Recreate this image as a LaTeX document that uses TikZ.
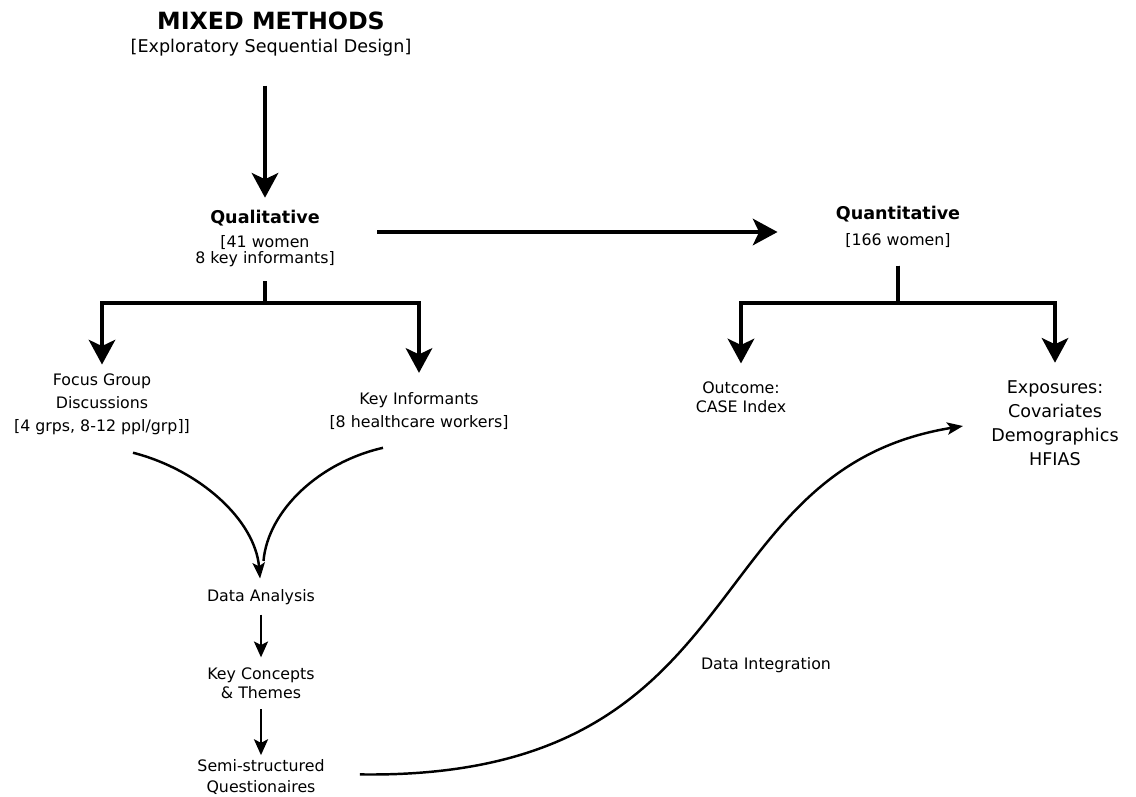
\documentclass[tikz,border=0pt]{standalone}
\usepackage{fontspec}
\setmainfont{DejaVu Sans}
\usetikzlibrary{arrows.meta, positioning, calc}

\begin{document}
\begin{tikzpicture}[
    x=0.02cm, y=-0.02cm,
    txt/.style={inner sep=0pt, align=center, font=\fontsize{9}{11}\selectfont},
    bigarrow/.style={-{Stealth[length=14pt, width=15pt, inset=3.5pt]}, line width=2.4pt},
    smallarrow/.style={-{Stealth[length=9pt, width=8pt, inset=2pt]}, line width=1.3pt},
    curve/.style={line width=1.4pt},
    curvetip/.style={-{Stealth[length=9pt, width=7pt, inset=2pt]}},
]
\useasboundingbox (0,0) rectangle (1136,796);

% Title
\node[inner sep=0pt, font=\fontsize{13.5}{16}\selectfont\bfseries] (title) at (271,21) {MIXED METHODS};
\node[txt, font=\fontsize{10}{12}\selectfont, below=0.17cm of title] (design) {[Exploratory Sequential Design]};

% Qualitative strand
\node[txt, anchor=north, font=\fontsize{9}{9.1}\selectfont] (qual) at (265,210)
    {{\fontsize{10}{12}\selectfont\bfseries Qualitative}\\[4.5pt]{[}41 women\\8 key informants]};
\node[txt, font=\fontsize{9}{13}\selectfont] (fgd) at (102,404)
    {Focus Group\\Discussions\\{[}4 grps, 8-12 ppl/grp]]};
\node[txt, font=\fontsize{9}{13}\selectfont] (key) at (419,411)
    {Key Informants\\{[}8 healthcare workers]};
\node[txt] (da) at (261,597) {Data Analysis};
\node[txt, font=\fontsize{9}{11.3}\selectfont, below=1.24cm of da] (kc) {Key Concepts\\\& Themes};
\node[txt, font=\fontsize{9}{12}\selectfont, below=1.2cm of kc] (semi) {Semi-structured\\Questionaires};

% Quantitative strand
\node[txt, anchor=north, font=\fontsize{9}{9.1}\selectfont] (quant) at (898,206)
    {{\fontsize{10}{12}\selectfont\bfseries Quantitative}\\[5.6pt]{[}166 women]};
\node[txt, font=\fontsize{9}{11}\selectfont] (outcome) at (741,397) {Outcome:\\CASE Index};
\node[txt, font=\fontsize{10}{13.6}\selectfont] (expo) at (1055,423)
    {Exposures:\\Covariates\\Demographics\\HFIAS};

\node[txt] (dint) at (766,665) {Data Integration};

% Arrows
\draw[bigarrow, shorten <=16.5pt, shorten >=7pt] (design.south -| qual.north) -- (qual.north);
\draw[bigarrow, shorten <=24pt, shorten >=33pt] (qual.east |- 0,232) -- (quant.west |- 0,232);

\draw[bigarrow, shorten <=8pt, shorten >=5pt] (qual.south) -- (qual.south |- 0,303) -| (fgd.north);
\draw[bigarrow, shorten <=8pt, shorten >=11pt] (qual.south) -- (qual.south |- 0,303) -| (key.north);
\draw[bigarrow, shorten <=10pt, shorten >=10pt] (quant.south) -- (quant.south |- 0,303) -| (outcome.north);
\draw[bigarrow, shorten <=10pt, shorten >=10pt] (quant.south) -- (quant.south |- 0,303) -| (expo.north);

% Merge into analysis
\draw[curve, curvetip, shorten >=6pt] ($(fgd.south)+(31,18)$) .. controls (200,470) and (255,520) .. (da.north);
\draw[curve, shorten >=16pt] ($(key.south)+(-36,18)$) .. controls (320,462) and (268,510) .. (da.north);

\draw[smallarrow, shorten <=5.5pt, shorten >=5.5pt] (da) -- (kc);
\draw[smallarrow, shorten <=5.5pt, shorten >=2.5pt] (kc) -- (semi);

% Integration
\draw[curve, curvetip] ($(semi.east)+(35,-3)$) .. controls (760,780) and (690,470) .. ($(expo.west)+(-28,3)$);
\end{tikzpicture}
\end{document}
